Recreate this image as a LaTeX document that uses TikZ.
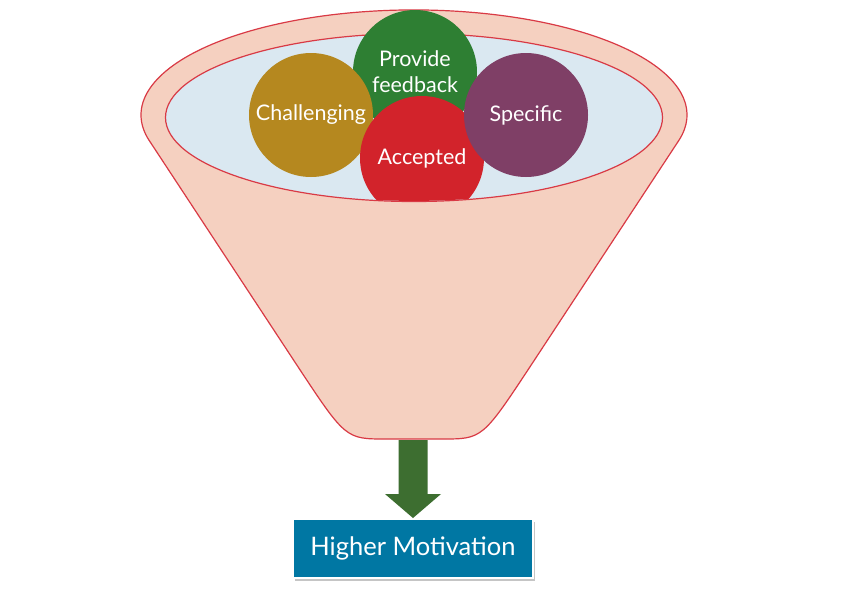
\documentclass[tikz,border=0pt]{standalone}
\usepackage{fontspec}
\setmainfont{Lato}
\usetikzlibrary{calc,shadows}
\definecolor{funnelfill}{HTML}{F5D0C0}
\definecolor{funnelline}{HTML}{D93A45}
\definecolor{innerfill}{HTML}{DAE8F1}
\definecolor{ballgold}{HTML}{B5881F}
\definecolor{ballgreen}{HTML}{2E7F33}
\definecolor{ballred}{HTML}{D2232B}
\definecolor{ballpurple}{HTML}{7F3F66}
\definecolor{arrowgreen}{HTML}{3D6E30}
\definecolor{boxblue}{HTML}{0077A3}
\begin{document}
\begin{tikzpicture}[x=1pt,y=-1pt,
  ball/.style={circle, minimum size=124pt, inner sep=0pt, text=white,
    font=\fontsize{21.5}{26}\selectfont, align=center},
  funnelstyle/.style={fill=funnelfill, draw=funnelline, line width=1.2pt},
  resultbox/.style={fill=boxblue, draw=white, line width=2pt, minimum width=240pt,
    minimum height=59pt, text=white, font=\fontsize{25.5}{29}\selectfont,
    drop shadow={shadow xshift=2pt, shadow yshift=-3pt, opacity=0.45}}]
\useasboundingbox (0,0) rectangle (846,608);
\fill[white] (0,0) rectangle (846,608);
% funnel body
\path[funnelstyle] (148.9,140) -- (296.1,363.9) .. controls (345.6,439) .. (386,439)
  -- (442,439) .. controls (482.4,439) .. (531.9,363.9) -- (679.1,140)
  arc[start angle=13.8, end angle=-193.8, x radius=273, y radius=105] -- cycle;
\coordinate (neck) at (413,439);
% inner ellipse
\path[fill=innerfill, draw=funnelline, line width=1.2pt] (414,117.5) ellipse[x radius=248.5, y radius=84];
% balls
\node[ball, fill=ballgreen] (fb) at (415,72) {Provide\\feedback};
\node[ball, fill=ballgold] (ch) at (311,115) {Challenging};
\begin{scope}
  \clip (414,117.5) ellipse[x radius=247.9, y radius=83.4];
  \node[ball, fill=ballred] (ac) at (422,158) {Accepted};
\end{scope}
\node[ball, fill=ballpurple] (sp) at (526,115) {Specific};
% result box
\node[resultbox] (hm) at (413,548.5) {Higher Motivation};
% arrow
\fill[arrowgreen] ($(neck)+(-14.5,1)$) -- ($(hm.north)+(-14.5,-24)$) -- ($(hm.north)+(-28,-24)$)
  -- (hm.north) -- ($(hm.north)+(28,-24)$) -- ($(hm.north)+(14.5,-24)$)
  -- ($(neck)+(14.5,1)$) -- cycle;
\end{tikzpicture}
\end{document}
